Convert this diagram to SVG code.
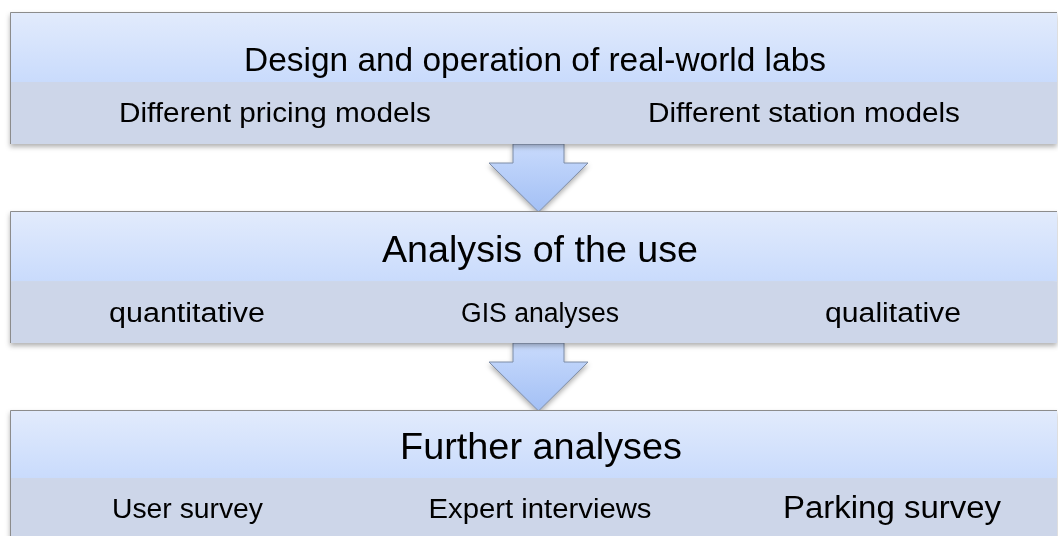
<svg xmlns="http://www.w3.org/2000/svg" width="1058" height="536" viewBox="0 0 1058 536">
  <defs>
    <linearGradient id="bandTop" x1="0" y1="0" x2="0" y2="1">
      <stop offset="0" stop-color="#e2ebfc"/>
      <stop offset="1" stop-color="#c9dbfc"/>
    </linearGradient>
    <linearGradient id="arrowFill" x1="0" y1="0" x2="0" y2="1">
      <stop offset="0" stop-color="#c8dafc"/>
      <stop offset="1" stop-color="#a3c0f5"/>
    </linearGradient>
    <filter id="shadow" x="-5%" y="-20%" width="110%" height="150%">
      <feDropShadow dx="0" dy="3" stdDeviation="2.5" flood-color="#000" flood-opacity="0.3"/>
    </filter>
  </defs>
  <style>
    .top { fill: url(#bandTop); }
    .bottom { fill: #cdd6e9; }
    .frame { fill: none; stroke: #8c8c8c; stroke-width: 1; }
    .arrow { fill: url(#arrowFill); stroke: #7d8ca6; stroke-width: 1; }
    text { font-family: "Liberation Sans", Arial, sans-serif; fill: #000; }
    .title { font-size: 36.5px; }
    .sub { font-size: 27px; }
  </style>

  <rect width="1058" height="536" fill="#fff"/>

  <!-- connectors: block arrows between stages -->
  <g id="connectors" filter="url(#shadow)">
    <polygon class="arrow" points="513,144 564,144 564,163 588,163 538.5,212 489,163 513,163"/>
    <polygon class="arrow" points="513,343 564,343 564,362 588,362 538.5,411 489,362 513,362"/>
  </g>

  <!-- stage 1 -->
  <g id="stage-design" filter="url(#shadow)">
    <rect class="top" x="10" y="12" width="1047" height="70"/>
    <rect class="bottom" x="10" y="82" width="1047" height="62"/>
    <path class="frame" d="M10.5,144 V12.5 H1057"/>
    <text class="title" x="244" y="70.7" textLength="582" lengthAdjust="spacingAndGlyphs" style="font-size:34px">Design and operation of real-world labs</text>
    <text class="sub" x="119" y="121.7" textLength="312" lengthAdjust="spacingAndGlyphs">Different pricing models</text>
    <text class="sub" x="648" y="121.7" textLength="312" lengthAdjust="spacingAndGlyphs">Different station models</text>
  </g>

  <!-- stage 2 -->
  <g id="stage-analysis" filter="url(#shadow)">
    <rect class="top" x="10" y="211" width="1047" height="70.5"/>
    <rect class="bottom" x="10" y="281.5" width="1047" height="61.5"/>
    <path class="frame" d="M10.5,343 V211.5 H1057"/>
    <text class="title" x="382" y="262" textLength="316" lengthAdjust="spacingAndGlyphs">Analysis of the use</text>
    <text class="sub" x="109" y="322.3" textLength="156" lengthAdjust="spacingAndGlyphs">quantitative</text>
    <text class="sub" x="461" y="322.3" textLength="158" lengthAdjust="spacingAndGlyphs">GIS analyses</text>
    <text class="sub" x="825" y="322.3" textLength="136" lengthAdjust="spacingAndGlyphs">qualitative</text>
  </g>

  <!-- stage 3 -->
  <g id="stage-further" filter="url(#shadow)">
    <rect class="top" x="10" y="410" width="1047" height="68"/>
    <rect class="bottom" x="10" y="478" width="1047" height="62"/>
    <path class="frame" d="M10.5,540 V410.5 H1057"/>
    <text class="title" x="400" y="458.7" textLength="282" lengthAdjust="spacingAndGlyphs">Further analyses</text>
    <text class="sub" x="112" y="518.3" textLength="151" lengthAdjust="spacingAndGlyphs">User survey</text>
    <text class="sub" x="428.5" y="518.3" textLength="223" lengthAdjust="spacingAndGlyphs">Expert interviews</text>
    <text class="sub" x="783" y="518.3" textLength="218" lengthAdjust="spacingAndGlyphs" style="font-size:31px">Parking survey</text>
  </g>
</svg>
